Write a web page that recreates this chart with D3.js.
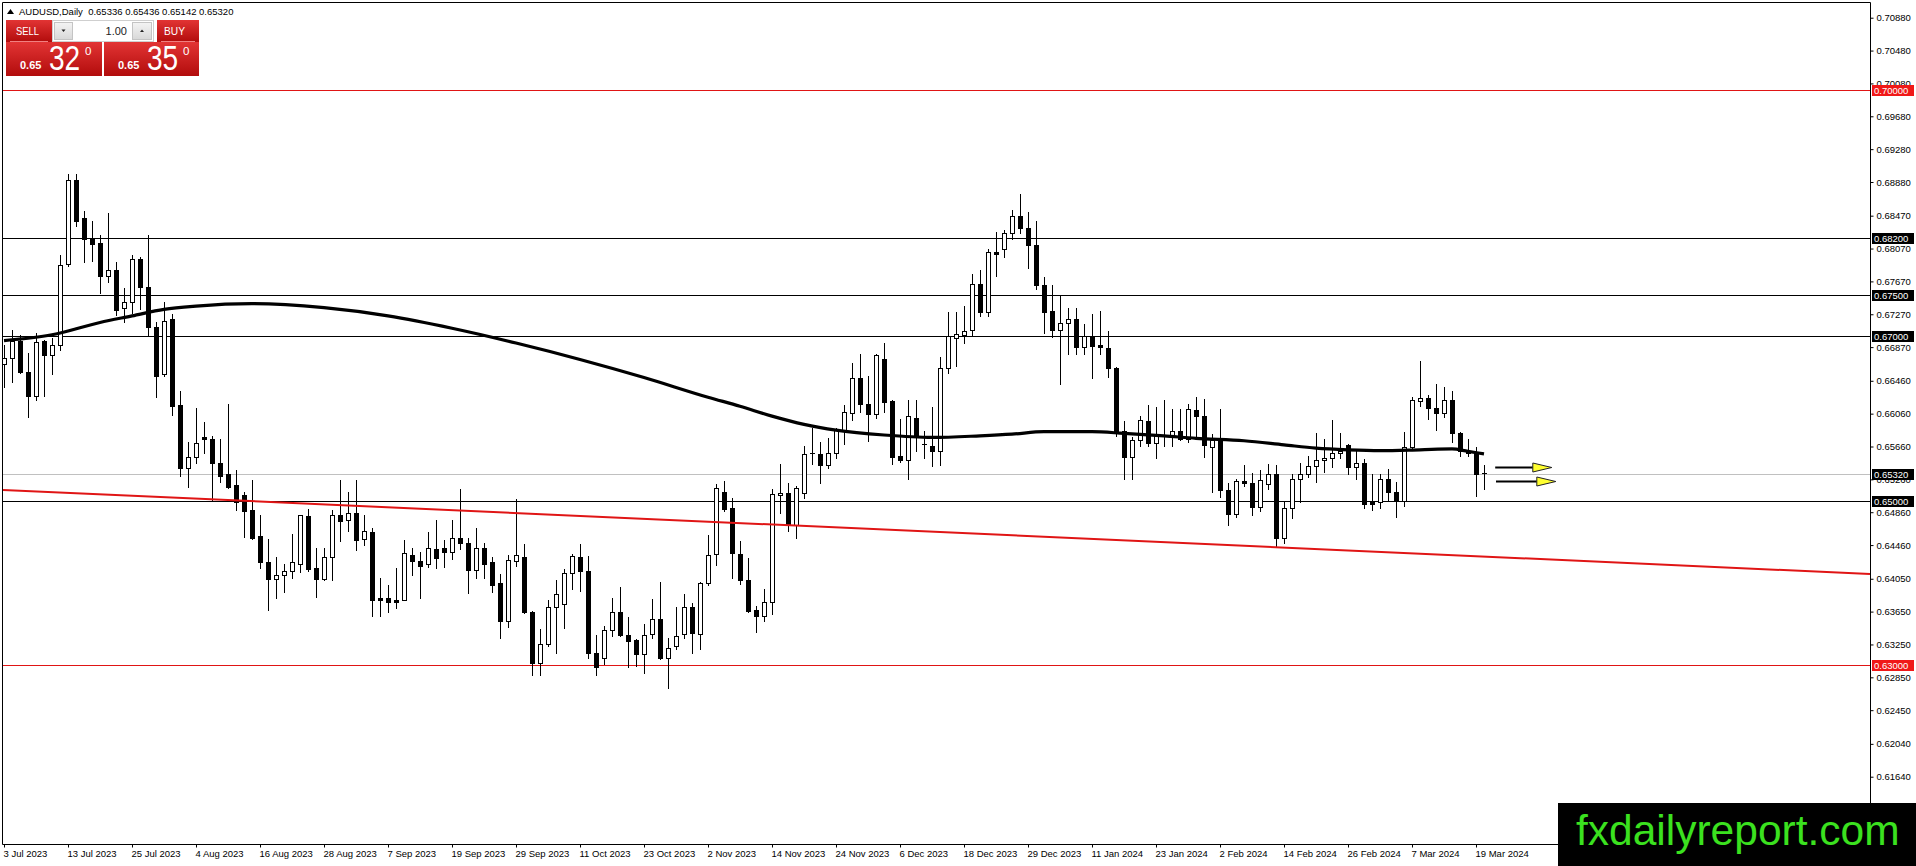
<!DOCTYPE html>
<html>
<head>
<meta charset="utf-8">
<script src="https://cdn.jsdelivr.net/npm/d3@7/dist/d3.min.js"></script>
<style>
  html,body{margin:0;padding:0;background:#fff;}
  svg{display:block;}
  text{font-family:"Liberation Sans",Arial,sans-serif;}
</style>
</head>
<body>
<svg id="chart" width="1916" height="866"></svg>
<script>
// ---------------- DATA ----------------
const symbolName = "AUDUSD,Daily";

const openP = [
0.6666,0.6674,0.6694,0.6657,0.6627,0.6694,0.6677,0.6689,0.6788,0.6891,
0.6844,0.6820,0.6814,0.6773,0.6781,0.6735,0.6742,0.6794,0.6760,0.6712,
0.6654,0.6721,0.6616,0.6540,0.6553,0.6578,0.6575,0.6546,0.6532,0.6519,
0.6507,0.6489,0.6457,0.6426,0.6405,0.6410,0.6415,0.6423,0.6481,0.6418,
0.6405,0.6431,0.6482,0.6477,0.6485,0.6453,0.6462,0.6382,0.6382,0.6379,
0.6379,0.6434,0.6427,0.6423,0.6441,0.6443,0.6438,0.6455,0.6449,0.6416,
0.6442,0.6425,0.6400,0.6353,0.6427,0.6432,0.6365,0.6302,0.6326,0.6371,
0.6374,0.6412,0.6432,0.6415,0.6315,0.6308,0.6343,0.6365,0.6336,0.6330,
0.6314,0.6338,0.6356,0.6308,0.6323,0.6338,0.6371,0.6338,0.6400,0.6435,
0.6511,0.6491,0.6435,0.6404,0.6367,0.6360,0.6377,0.6507,0.6509,0.6470,
0.6509,0.6557,0.6557,0.6543,0.6558,0.6586,0.6607,0.6649,0.6618,0.6606,
0.6672,0.6621,0.6554,0.6550,0.6601,0.6568,0.6567,0.6560,0.6662,0.6698,
0.6702,0.6708,0.6764,0.6730,0.6803,0.6806,0.6826,0.6847,0.6832,0.6811,
0.6763,0.6731,0.6708,0.6716,0.6721,0.6687,0.6701,0.6689,0.6686,0.6662,
0.6585,0.6553,0.6574,0.6597,0.6570,0.6580,0.6579,0.6585,0.6575,0.6610,
0.6603,0.6566,0.6576,0.6513,0.6484,0.6524,0.6522,0.6492,0.6520,0.6532,
0.6455,0.6491,0.6526,0.6533,0.6542,0.6550,0.6552,0.6558,0.6568,0.6541,
0.6546,0.6499,0.6499,0.6527,0.6511,0.6500,0.6565,0.6621,0.6625,0.6613,
0.6607,0.6623,0.6583,0.6561,0.6558,0.65336];

const highP = [
0.6690,0.6708,0.6702,0.6680,0.6704,0.6696,0.6698,0.6799,0.6898,0.6898,
0.6853,0.6841,0.6824,0.6850,0.6791,0.6759,0.6799,0.6797,0.6824,0.6717,
0.6742,0.6727,0.6633,0.6572,0.6613,0.6596,0.6579,0.6575,0.6618,0.6537,
0.6510,0.6525,0.6482,0.6453,0.6431,0.6423,0.6460,0.6483,0.6490,0.6443,
0.6442,0.6489,0.6525,0.6510,0.6525,0.6483,0.6467,0.6406,0.6397,0.6418,
0.6452,0.6442,0.6437,0.6462,0.6476,0.6452,0.6476,0.6514,0.6455,0.6467,
0.6449,0.6431,0.6411,0.6434,0.6502,0.6447,0.6366,0.6344,0.6379,0.6403,
0.6417,0.6435,0.6447,0.6433,0.6336,0.6347,0.6382,0.6395,0.6359,0.6332,
0.6350,0.6380,0.6401,0.6333,0.6370,0.6386,0.6375,0.6401,0.6458,0.6520,
0.6524,0.6503,0.6451,0.6430,0.6372,0.6392,0.6514,0.6545,0.6522,0.6518,
0.6567,0.6589,0.6571,0.6576,0.6589,0.6616,0.6668,0.6679,0.6652,0.6679,
0.6692,0.6623,0.6599,0.6622,0.6622,0.6585,0.6614,0.6675,0.6730,0.6730,
0.6737,0.6776,0.6781,0.6806,0.6827,0.6830,0.6854,0.6873,0.6851,0.6841,
0.6772,0.6762,0.6750,0.6735,0.6735,0.6715,0.6727,0.6731,0.6707,0.6663,
0.6597,0.6577,0.6603,0.6616,0.6614,0.6623,0.6612,0.6612,0.6618,0.6626,
0.6624,0.6581,0.6612,0.6521,0.6527,0.6543,0.6534,0.6537,0.6545,0.6543,
0.6498,0.6532,0.6546,0.6554,0.6582,0.6575,0.6598,0.6583,0.6569,0.6561,
0.6551,0.6532,0.6533,0.6538,0.6523,0.6584,0.6626,0.6670,0.6629,0.6642,
0.6638,0.6634,0.6584,0.6575,0.6565,0.65436];

const lowP = [
0.6639,0.6644,0.6656,0.6602,0.6623,0.6627,0.6654,0.6683,0.6786,0.6834,
0.6790,0.6792,0.6753,0.6766,0.6726,0.6718,0.6729,0.6733,0.6701,0.6626,
0.6652,0.6604,0.6530,0.6517,0.6546,0.6558,0.6501,0.6523,0.6515,0.6489,
0.6456,0.6454,0.6418,0.6367,0.6381,0.6389,0.6406,0.6413,0.6414,0.6383,
0.6404,0.6404,0.6451,0.6463,0.6440,0.6446,0.6360,0.6360,0.6364,0.6369,
0.6379,0.6410,0.6382,0.6419,0.6418,0.6419,0.6429,0.6441,0.6388,0.6406,
0.6406,0.6389,0.6333,0.6346,0.6420,0.6363,0.6288,0.6288,0.6323,0.6315,
0.6345,0.6392,0.6390,0.6309,0.6288,0.6301,0.6335,0.6335,0.6298,0.6299,
0.6290,0.6333,0.6307,0.6272,0.6319,0.6333,0.6315,0.6320,0.6397,0.6422,
0.6487,0.6406,0.6399,0.6365,0.6340,0.6354,0.6362,0.6485,0.6463,0.6455,
0.6503,0.6545,0.6522,0.6540,0.6552,0.6569,0.6598,0.6608,0.6573,0.6601,
0.6608,0.6545,0.6547,0.6527,0.6560,0.6552,0.6542,0.6543,0.6656,0.6664,
0.6692,0.6701,0.6725,0.6725,0.6774,0.6797,0.6819,0.6826,0.6783,0.6758,
0.6704,0.6699,0.6642,0.6679,0.6679,0.6679,0.6649,0.6679,0.6651,0.6579,
0.6526,0.6527,0.6567,0.6567,0.6552,0.6567,0.6567,0.6574,0.6571,0.6577,
0.6553,0.6510,0.6505,0.6470,0.6480,0.6518,0.6483,0.6488,0.6514,0.6444,
0.6448,0.6479,0.6498,0.6529,0.6523,0.6535,0.6541,0.6552,0.6532,0.6527,
0.6491,0.6489,0.6491,0.6500,0.6480,0.6494,0.6563,0.6615,0.6599,0.6586,
0.6602,0.6571,0.6555,0.6554,0.6506,0.65142];

const closeP = [
0.6674,0.6694,0.6657,0.6627,0.6693,0.6677,0.6689,0.6787,0.6890,0.6840,
0.6819,0.6812,0.6773,0.6781,0.6732,0.6742,0.6794,0.6760,0.6712,0.6652,
0.6719,0.6615,0.6540,0.6553,0.6570,0.6575,0.6546,0.6530,0.6517,0.6499,
0.6487,0.6455,0.6425,0.6405,0.6410,0.6415,0.6425,0.6482,0.6417,0.6405,
0.6431,0.6482,0.6475,0.6485,0.6452,0.6463,0.6379,0.6379,0.6377,0.6377,
0.6436,0.6427,0.6421,0.6442,0.6430,0.6438,0.6455,0.6448,0.6416,0.6443,
0.6423,0.6397,0.6353,0.6428,0.6434,0.6364,0.6302,0.6326,0.6371,0.6386,
0.6412,0.6433,0.6414,0.6315,0.6297,0.6343,0.6365,0.6336,0.6329,0.6314,
0.6336,0.6356,0.6309,0.6321,0.6335,0.6370,0.6339,0.6400,0.6434,0.6515,
0.6490,0.6436,0.6403,0.6366,0.6360,0.6377,0.6508,0.6509,0.6470,0.6515,
0.6557,0.6558,0.6543,0.6558,0.6586,0.6608,0.6649,0.6618,0.6606,0.6677,
0.6620,0.6553,0.6550,0.6603,0.6577,0.6569,0.6560,0.6662,0.6700,0.6703,
0.6707,0.6764,0.6730,0.6803,0.6800,0.6826,0.6847,0.6832,0.6811,0.6763,
0.6730,0.6708,0.6716,0.6721,0.6687,0.6701,0.6688,0.6687,0.6662,0.6583,
0.6553,0.6574,0.6598,0.6570,0.6579,0.6579,0.6585,0.6575,0.6612,0.6603,
0.6568,0.6574,0.6513,0.6484,0.6524,0.6521,0.6492,0.6525,0.6532,0.6455,
0.6491,0.6526,0.6533,0.6542,0.6550,0.6552,0.6558,0.6561,0.6541,0.6546,
0.6496,0.6496,0.6527,0.6511,0.6500,0.6565,0.6622,0.6625,0.6613,0.6607,
0.6623,0.6582,0.6561,0.6558,0.6532,0.65320];

// moving average (bar index, value)
const maIdx = [0,6,12,16,20,24,31,40,48,56,64,72,80,88,92,96,100,104,110,116,122,126,130,136,140,145,149,155,160,164,168,172,177,181,183,185];
const maVal = [0.6695,0.6702,0.6717,0.6725,0.6733,0.6737,0.6740,0.6735,0.6725,0.6710,0.6692,0.6672,0.6650,0.6626,0.6615,0.6603,0.6593,0.6586,0.6580,0.6577,0.6579,0.6581,0.6584,0.6584,0.6582,0.6579,0.6576,0.6573,0.6568,0.6564,0.6562,0.6561,0.6562,0.6563,0.6560,0.6557];

// support / resistance levels
const redLevels = [0.70000, 0.63000];
const blackLevels = [0.68200, 0.67500, 0.67000, 0.65000];
const askPrice = 0.65350;
const lotSize = "1.00";

// red trend line (bar index, price) anchors
const trendIdx = [0, 185];
const trendVal = [0.6513, 0.6432];

// arrows: start bar, end-of-shaft bar, price
const arrowStart = [186.4, 186.5];
const arrowEnd = [191.1, 191.6];
const arrowPrice = [0.6541, 0.6524];

// axis tick labels
const yTickLabels = ["0.70880","0.70480","0.70080","0.69680","0.69280","0.68880","0.68470","0.68070","0.67670","0.67270","0.66870","0.66460","0.66060","0.65660","0.65260","0.64860","0.64460","0.64050","0.63650","0.63250","0.62850","0.62450","0.62040","0.61640"];
const xTickIdx = [0,8,16,24,32,40,48,56,64,72,80,88,96,104,112,120,128,136,144,152,160,168,176,184];
const xTickLabels = ["3 Jul 2023","13 Jul 2023","25 Jul 2023","4 Aug 2023","16 Aug 2023","28 Aug 2023","7 Sep 2023","19 Sep 2023","29 Sep 2023","11 Oct 2023","23 Oct 2023","2 Nov 2023","14 Nov 2023","24 Nov 2023","6 Dec 2023","18 Dec 2023","29 Dec 2023","11 Jan 2024","23 Jan 2024","2 Feb 2024","14 Feb 2024","26 Feb 2024","7 Mar 2024","19 Mar 2024"];

const watermark = "fxdailyreport.com";

// ---------------- LAYOUT ----------------
const W = 1916, H = 866;
const L = 3, R = 1870, T = 3, B = 844;
const RED = "#e01515", LBLRED = "#f01818";

const svg = d3.select("#chart");
const y = d3.scaleLinear().domain([0.63, 0.70]).range([665, 90]);
const x = d3.scaleLinear().domain([0, 185]).range([4, 1484]);

const defs = svg.append("defs");
defs.append("clipPath").attr("id","plot").append("rect")
  .attr("x",L).attr("y",T).attr("width",R-L).attr("height",B-T);
const g1 = defs.append("linearGradient").attr("id","redg").attr("x1",0).attr("y1",0).attr("x2",0).attr("y2",1);
g1.append("stop").attr("offset","0%").attr("stop-color","#e23434");
g1.append("stop").attr("offset","100%").attr("stop-color","#b20c0c");
const g2 = defs.append("linearGradient").attr("id","btng").attr("x1",0).attr("y1",0).attr("x2",0).attr("y2",1);
g2.append("stop").attr("offset","0%").attr("stop-color","#f4f4f4");
g2.append("stop").attr("offset","100%").attr("stop-color","#d8d8d8");

const plot = svg.append("g").attr("clip-path","url(#plot)");
const bid = closeP[closeP.length-1];
const crisp = v => Math.round(v) + 0.5;

// horizontal levels
plot.selectAll("line.bid").data([bid]).join("line")
  .attr("x1",L).attr("x2",R).attr("y1",d=>crisp(y(d))).attr("y2",d=>crisp(y(d)))
  .attr("stroke","#c0c0c0").attr("stroke-width",1);
plot.selectAll("line.blk").data(blackLevels).join("line")
  .attr("x1",L).attr("x2",R).attr("y1",d=>crisp(y(d))).attr("y2",d=>crisp(y(d)))
  .attr("stroke","#000").attr("stroke-width",1);
plot.selectAll("line.red").data(redLevels).join("line")
  .attr("x1",L).attr("x2",R).attr("y1",d=>crisp(y(d))).attr("y2",d=>crisp(y(d)))
  .attr("stroke",RED).attr("stroke-width",1);

// candles
const bars = d3.range(openP.length).map(i => ({i, o:openP[i], h:highP[i], l:lowP[i], c:closeP[i]}));
const cg = plot.append("g");
bars.forEach(d => {
  const cx = Math.round(x(d.i));
  cg.append("line").attr("x1",cx+0.5).attr("x2",cx+0.5)
    .attr("y1",Math.round(y(d.h))).attr("y2",Math.round(y(d.l))+1)
    .attr("stroke","#000").attr("stroke-width",1);
  const top = Math.round(y(Math.max(d.o,d.c)));
  const bot = Math.round(y(Math.min(d.o,d.c)));
  if (bot - top < 2) {
    cg.append("line").attr("x1",cx-2).attr("x2",cx+3)
      .attr("y1",top+0.5).attr("y2",top+0.5).attr("stroke","#000");
  } else if (d.c < d.o) {
    cg.append("rect").attr("x",cx-2).attr("y",top).attr("width",5).attr("height",bot-top+1).attr("fill","#000");
  } else {
    cg.append("rect").attr("x",cx-1.5).attr("y",top+0.5).attr("width",4).attr("height",bot-top)
      .attr("fill","#fff").attr("stroke","#000").attr("stroke-width",1);
  }
});

// moving average
const maPts = maIdx.map((v,k)=>[v, maVal[k]]);
plot.append("path").datum(maPts)
  .attr("d", d3.line().x(d=>x(d[0])).y(d=>y(d[1])).curve(d3.curveMonotoneX))
  .attr("fill","none").attr("stroke","#000").attr("stroke-width",3.2).attr("stroke-linejoin","round");

// trend line (ray across the window)
const tSlope = (trendVal[1]-trendVal[0])/(trendIdx[1]-trendIdx[0]);
const tAt = i => trendVal[0] + tSlope*(i - trendIdx[0]);
const iL = x.invert(L), iR = x.invert(R);
plot.append("line").attr("x1",x(iL)).attr("x2",x(iR)).attr("y1",y(tAt(iL))).attr("y2",y(tAt(iR)))
  .attr("stroke",RED).attr("stroke-width",2);

// arrows
arrowPrice.forEach((p,k) => {
  const yy = Math.round(y(p)) + 0.5;
  const xs = x(arrowStart[k]), xe = x(arrowEnd[k]);
  plot.append("line").attr("x1",xs).attr("x2",xe).attr("y1",yy).attr("y2",yy)
    .attr("stroke","#000").attr("stroke-width",2);
  plot.append("path").attr("d",`M${xe},${yy-4.5} L${xe+19},${yy} L${xe},${yy+4.5} Z`)
    .attr("fill","#ffff30").attr("stroke","#222").attr("stroke-width",1);
});

// frame
svg.append("path").attr("d",`M${L-0.5},${B+0.5} V${T-0.5} H${R+0.5} V${B+0.5} Z`)
  .attr("fill","none").attr("stroke","#000").attr("stroke-width",1);

// Y axis
const yAxis = d3.axisRight(y)
  .tickValues(yTickLabels.map(Number))
  .tickFormat((d,i)=>yTickLabels[i])
  .tickSize(3).tickPadding(3);
const ya = svg.append("g").attr("transform",`translate(${R+0.5},0)`).call(yAxis);
ya.select(".domain").remove();
ya.selectAll("line").attr("stroke","#000");
ya.selectAll("text").attr("font-size","9.5px").attr("fill","#000").attr("font-family","Liberation Sans, Arial, sans-serif");

// X axis
const xAxis = d3.axisBottom(x)
  .tickValues(xTickIdx)
  .tickFormat((d,i)=>xTickLabels[i])
  .tickSize(3).tickPadding(3);
const xa = svg.append("g").attr("transform",`translate(0,${B+0.5})`).call(xAxis);
xa.select(".domain").remove();
xa.selectAll("line").attr("stroke","#000");
xa.selectAll("text").attr("text-anchor","start").attr("dx","-1")
  .attr("font-size","9.5px").attr("fill","#000").attr("font-family","Liberation Sans, Arial, sans-serif");

// level price boxes on the axis
function priceBox(p, bg){
  const yy = Math.round(y(p));
  svg.append("rect").attr("x",R+2).attr("y",yy-5).attr("width",42).attr("height",11).attr("fill",bg);
  svg.append("text").attr("x",R+4).attr("y",yy+4).attr("font-size","9.5px").attr("fill","#fff")
    .text(p.toFixed(5));
}
blackLevels.forEach(p=>priceBox(p,"#000"));
priceBox(bid,"#000");
redLevels.forEach(p=>priceBox(p,LBLRED));

// header
svg.append("path").attr("d","M7,14 L10.5,9 L14,14 Z").attr("fill","#000");
svg.append("text").attr("x",19).attr("y",14.5).attr("font-size","9.5px").attr("fill","#000")
  .attr("xml:space","preserve")
  .text(`${symbolName}  ${openP.at(-1).toFixed(5)} ${highP.at(-1).toFixed(5)} ${lowP.at(-1).toFixed(5)} ${closeP.at(-1).toFixed(5)}`);

// trade panel
const panel = svg.append("g");
panel.append("rect").attr("x",6).attr("y",20).attr("width",46).attr("height",22).attr("fill","url(#redg)");
panel.append("rect").attr("x",157).attr("y",20).attr("width",42).attr("height",22).attr("fill","url(#redg)");
panel.append("rect").attr("x",6).attr("y",42).attr("width",96).attr("height",34).attr("fill","url(#redg)");
panel.append("rect").attr("x",104).attr("y",42).attr("width",95).attr("height",34).attr("fill","url(#redg)");
panel.append("line").attr("x1",10).attr("x2",48).attr("y1",41.5).attr("y2",41.5).attr("stroke","#f08080").attr("stroke-width",1);
panel.append("line").attr("x1",161).attr("x2",195).attr("y1",41.5).attr("y2",41.5).attr("stroke","#f08080").attr("stroke-width",1);
panel.append("text").attr("x",16).attr("y",35).attr("font-size","11.5px").attr("fill","#fff")
  .attr("textLength",23).attr("lengthAdjust","spacingAndGlyphs").text("SELL");
panel.append("text").attr("x",164).attr("y",35).attr("font-size","11.5px").attr("fill","#fff")
  .attr("textLength",21).attr("lengthAdjust","spacingAndGlyphs").text("BUY");
// lot control
panel.append("rect").attr("x",52.5).attr("y",20.5).attr("width",101).attr("height",21).attr("fill","#fff").attr("stroke","#cfcfcf");
panel.append("rect").attr("x",54.5).attr("y",22.5).attr("width",18).attr("height",17).attr("fill","url(#btng)").attr("stroke","#c4c4c4");
panel.append("rect").attr("x",132.5).attr("y",22.5).attr("width",19).attr("height",17).attr("fill","url(#btng)").attr("stroke","#c4c4c4");
panel.append("path").attr("d","M61.5,29.5 L65.5,29.5 L63.5,32 Z").attr("fill","#222");
panel.append("path").attr("d","M140,32 L144,32 L142,29.5 Z").attr("fill","#222");
panel.append("text").attr("x",127).attr("y",35).attr("text-anchor","end").attr("font-size","11px").attr("fill","#222").text(lotSize);

function bigPrice(val, x0){
  const s = val.toFixed(5);
  const head = s.slice(0,4), pip = s.slice(4,6), frac = s.slice(6);
  panel.append("text").attr("x",x0).attr("y",68.5).attr("font-size","11px").attr("font-weight","bold").attr("fill","#fff").text(head);
  panel.append("text").attr("transform",`translate(${x0+29},70) scale(0.78,1)`)
    .attr("font-size","36px").attr("fill","#fff").text(pip);
  panel.append("text").attr("x",x0+65).attr("y",55).attr("font-size","11.5px").attr("fill","#fff").text(frac);
}
bigPrice(bid, 20);
bigPrice(askPrice, 118);

// watermark
svg.append("rect").attr("x",1558).attr("y",803).attr("width",W-1558).attr("height",H-803).attr("fill","#000");
svg.append("text").attr("x",1576).attr("y",845).attr("font-size","42.5px").attr("fill","#3be11f").text(watermark);
</script>
</body>
</html>
